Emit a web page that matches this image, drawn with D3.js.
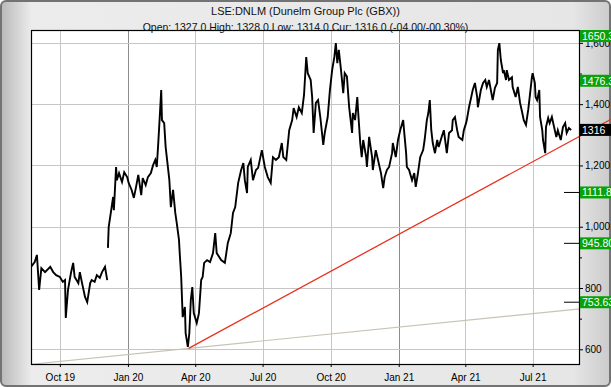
<!DOCTYPE html>
<html>
<head>
<meta charset="UTF-8">
<style>
  body { margin: 0; background: #fff; }
  svg text { font-family: "Liberation Sans", Arial, sans-serif; }
  .axis path { display: none; }
  .axis line { stroke: #000; }
  .axis text { fill: #000; font-size: 10px; }
</style>
</head>
<body>
<script src="https://cdn.jsdelivr.net/npm/d3@7/dist/d3.min.js"></script>
<script>
// Dunelm (LSE:DNLM) daily price in GBX
// days = day offset from startDate, null price = gap in the data
var startDate = "2019-08-23";
var priceDays = [
  0,5,8,11,14,19,26,30,34,39,43,46,47,50,54,57,59,64,66,69,73,76,80,82,86,89,93,96,100,103,
  103.5,
  104,105,109,111,112,115,116,119,123,126,130,132,136,139,142,145,149,151,155,158,162,165,168,170,
  172,174,176,177,180,182,185,187,189,192,195,197,200,201,203,204,205,208,209,212,214,216,218,220,
  224,227,230,232,234,238,242,246,249,251,257,262,266,270,273,276,280,284,287,289,292,293,297,300,
  304,307,312,316,320,324,327,331,335,339,341,345,349,353,355,359,362,366,369,372,374,378,380,382,
  385,388,391,395,397,401,404,407,410,412,414,416,419,422,424,427,430,434,435,438,441,442,445,447,
  449,453,454,457,461,462,466,469,473,476,478,481,484,488,489,493,496,499,503,505,507,508,511,515,
  518,520,523,526,530,532,535,537,539,541,543,546,549,551,555,558,562,565,569,570,573,576,578,583,
  585,588,589,592,595,597,600,603,604,608,611,614,616,619,622,624,627,630,631,633,635,638,639,642,
  643,646,650,651,655,658,661,664,666,669,672,674,677,678,681,682,684,687,688,691,692,695,696,699,
  701,704,707,710,712,716,719,722,724,727,730
];
var priceValues = [
  869,885,908,794,865,852,869,852,842,836,820,826,702,794,849,882,836,816,852,816,771,754,816,826,820,842,833,852,869,826,
  null,
  931,999,1064,1097,1054,1195,1152,1175,1146,1178,1162,1143,1120,1094,1130,1169,1103,1159,1136,1162,1175,1201,1218,1195,
  1273,1358,1446,1348,1338,1260,1195,1152,1064,1120,1045,1012,957,914,836,771,705,738,653,608,653,761,803,718,
  686,718,826,836,882,891,885,914,979,914,891,882,947,979,1045,1064,1143,1185,1208,1152,1110,1195,1218,1152,
  1185,1192,1250,1195,1162,1143,1227,1218,1227,1273,1227,1218,1315,1348,1387,1358,1390,1371,1430,1554,1501,1479,1423,1306,
  1404,1413,1358,1267,1306,1358,1446,1511,1554,1599,1534,1577,1511,1436,1501,1490,1390,1306,1371,1348,1423,1381,1273,1227,
  1283,1227,1195,1293,1227,1185,1250,1218,1175,1126,1162,1185,1195,1240,1273,1227,1283,1315,1348,1293,1240,1195,1185,1152,
  1175,1130,1175,1227,1250,1283,1348,1371,1413,1315,1273,1240,1283,1260,1293,1315,1240,1306,1315,1348,1358,1315,1293,1283,
  1315,1338,1348,1390,1423,1446,1469,1423,1390,1446,1469,1479,1456,1479,1439,1413,1453,1469,1577,1599,1544,1501,1511,1479,
  1511,1479,1488,1456,1423,1456,1404,1371,1348,1332,1381,1423,1488,1501,1469,1423,1413,1446,1358,1315,1283,1240,1325,1355,
  1338,1358,1325,1293,1315,1283,1325,1338,1306,1322,1316
];

// trend lines: two anchor points each [day offset, price]
var redTrend = [[213, 603], [749, 1305]];
var greyTrend = [[213, 603], [742, 732]];

// price levels shown on the right edge
var levelValues = [1650.33, 1476.33, 1111.83, 945.80, 753.63];
var levelMarked = [false, false, true, true, true];
var currentPrice = 1316;

var monthTicks = ["2019-10-01","2020-01-01","2020-04-01","2020-07-01","2020-10-01","2021-01-01","2021-04-01","2021-07-01"];
var monthLabels = ["Oct 19","Jan 20","Apr 20","Jul 20","Oct 20","Jan 21","Apr 21","Jul 21"];
var yTicks = [600, 800, 1000, 1200, 1400, 1600];
var yMinorTicks = [700, 900, 1100, 1300, 1500];

var title = "LSE:DNLM (Dunelm Group Plc (GBX))";
var subtitle = "Open: 1327.0 High: 1328.0 Low: 1314.0 Cur: 1316.0 (-04.00/-00.30%)";

var W = 611, H = 387;
var plot = {left: 31, right: 580, top: 30, bottom: 364};

var parse = d3.timeParse("%Y-%m-%d");
var t0 = parse(startDate);
function dayDate(d) { return new Date(t0.getTime() + d * 86400000); }

var x = d3.scaleTime()
    .domain([t0, parse("2021-09-03")])
    .range([plot.left, plot.right]);
var y = d3.scaleLinear()
    .domain([552, 1642])
    .range([plot.bottom, plot.top]);

var svg = d3.select("body").append("svg")
    .attr("width", W)
    .attr("height", H);

var defs = svg.append("defs");
var grad = defs.append("linearGradient").attr("id", "frameGrad")
    .attr("x1", 0).attr("x2", 1).attr("y1", 0).attr("y2", 0);
grad.append("stop").attr("offset", "0%").attr("stop-color", "#b9b9b9");
grad.append("stop").attr("offset", "5%").attr("stop-color", "#ececec");
grad.append("stop").attr("offset", "94%").attr("stop-color", "#e6e6e6");
grad.append("stop").attr("offset", "100%").attr("stop-color", "#cbcbcb");

defs.append("clipPath").attr("id", "plotClip")
  .append("rect")
    .attr("x", plot.left).attr("y", plot.top)
    .attr("width", plot.right - plot.left)
    .attr("height", plot.bottom - plot.top);

// frame
svg.append("rect")
    .attr("x", 1).attr("y", 1)
    .attr("width", W - 2).attr("height", H - 2)
    .attr("rx", 5)
    .attr("fill", "url(#frameGrad)")
    .attr("stroke", "#737373")
    .attr("stroke-width", 2);

svg.append("rect")
    .attr("x", plot.left).attr("y", plot.top)
    .attr("width", plot.right - plot.left)
    .attr("height", plot.bottom - plot.top)
    .attr("fill", "#fff");

// grid
var months = monthTicks.map(parse);
svg.append("g").selectAll("line")
    .data(months)
    .enter().append("line")
    .attr("x1", function(d) { return Math.round(x(d)) + 0.5; })
    .attr("x2", function(d) { return Math.round(x(d)) + 0.5; })
    .attr("y1", plot.top)
    .attr("y2", plot.bottom)
    .attr("stroke", function(d) { return d.getMonth() === 0 ? "#8c8c8c" : "#c6c6c6"; });

svg.append("g").selectAll("line")
    .data(yTicks)
    .enter().append("line")
    .attr("x1", plot.left)
    .attr("x2", plot.right)
    .attr("y1", function(d) { return Math.round(y(d)) + 0.5; })
    .attr("y2", function(d) { return Math.round(y(d)) + 0.5; })
    .attr("stroke", "#c6c6c6");

// trend lines
function trendAt(tr, day) {
    var a = tr[0], b = tr[1];
    return a[1] + (b[1] - a[1]) * (day - a[0]) / (b[0] - a[0]);
}
function dayAtX(px) { return (x.invert(px) - t0) / 86400000; }

var greyStart = dayAtX(plot.left), greyEnd = dayAtX(plot.right);
svg.append("line")
    .attr("clip-path", "url(#plotClip)")
    .attr("x1", x(dayDate(greyStart))).attr("y1", y(trendAt(greyTrend, greyStart)))
    .attr("x2", x(dayDate(greyEnd))).attr("y2", y(trendAt(greyTrend, greyEnd)))
    .attr("stroke", "#c9c3b6")
    .attr("stroke-width", 1.2);

var redEnd = dayAtX(W);
svg.append("line")
    .attr("x1", x(dayDate(redTrend[0][0]))).attr("y1", y(redTrend[0][1]))
    .attr("x2", x(dayDate(redEnd))).attr("y2", y(trendAt(redTrend, redEnd)))
    .attr("stroke", "#e8321e")
    .attr("stroke-width", 1.3);

// price
var line = d3.line()
    .defined(function(d, i) { return priceValues[i] != null; })
    .x(function(d, i) { return x(dayDate(priceDays[i])); })
    .y(function(d, i) { return y(priceValues[i]); });

svg.append("path")
    .datum(priceDays)
    .attr("clip-path", "url(#plotClip)")
    .attr("d", line)
    .attr("fill", "none")
    .attr("stroke", "#000")
    .attr("stroke-width", 1.9)
    .attr("stroke-linejoin", "miter");

// plot border
svg.append("rect")
    .attr("x", plot.left + 0.5).attr("y", plot.top + 0.5)
    .attr("width", plot.right - plot.left - 1)
    .attr("height", plot.bottom - plot.top)
    .attr("fill", "none")
    .attr("stroke", "#000")
    .attr("stroke-width", 1.2);

// axes
svg.append("g")
    .attr("class", "axis")
    .attr("transform", "translate(0," + plot.bottom + ")")
    .call(d3.axisBottom(x)
        .tickValues(months)
        .tickFormat(function(d, i) { return monthLabels[i]; })
        .tickSize(3)
        .tickPadding(7));

svg.append("g")
    .attr("class", "axis")
    .attr("transform", "translate(" + plot.right + ",0)")
    .call(d3.axisRight(y)
        .tickValues(yTicks)
        .tickSize(3)
        .tickPadding(2));

svg.append("g")
    .attr("class", "axis")
    .attr("transform", "translate(" + plot.right + ",0)")
    .call(d3.axisRight(y)
        .tickValues(yMinorTicks)
        .tickSize(2)
        .tickFormat(""));

// level markers
var levels = svg.append("g").selectAll("g")
    .data(levelValues)
    .enter().append("g")
    .attr("transform", function(d) {
        return "translate(" + plot.right + "," + Math.max(y(d), plot.top + 6) + ")";
    });

levels.filter(function(d, i) { return levelMarked[i]; })
  .append("line")
    .attr("x1", -16).attr("x2", 0)
    .attr("stroke", "#000");

levels.append("rect")
    .attr("x", 0).attr("y", -6)
    .attr("width", W - plot.right).attr("height", 12)
    .attr("fill", "#0aa10a");

levels.append("text")
    .attr("x", 2).attr("dy", "0.36em")
    .attr("fill", "#fff")
    .attr("font-size", 10.5)
    .text(function(d) { return d.toFixed(2); });

var cur = svg.append("g")
    .attr("transform", "translate(" + plot.right + "," + y(currentPrice) + ")");
cur.append("rect")
    .attr("x", 0).attr("y", -6)
    .attr("width", W - plot.right).attr("height", 12)
    .attr("fill", "#000");
cur.append("text")
    .attr("x", 2).attr("dy", "0.36em")
    .attr("fill", "#fff")
    .attr("font-size", 10.5)
    .text(currentPrice);

// titles
svg.append("text")
    .attr("x", W / 2).attr("y", 15)
    .attr("text-anchor", "middle")
    .attr("font-size", 11)
    .attr("fill", "#111")
    .text(title);

svg.append("text")
    .attr("x", W / 2).attr("y", 31)
    .attr("text-anchor", "middle")
    .attr("font-size", 10.5)
    .attr("fill", "#111")
    .text(subtitle);
</script>
</body>
</html>
